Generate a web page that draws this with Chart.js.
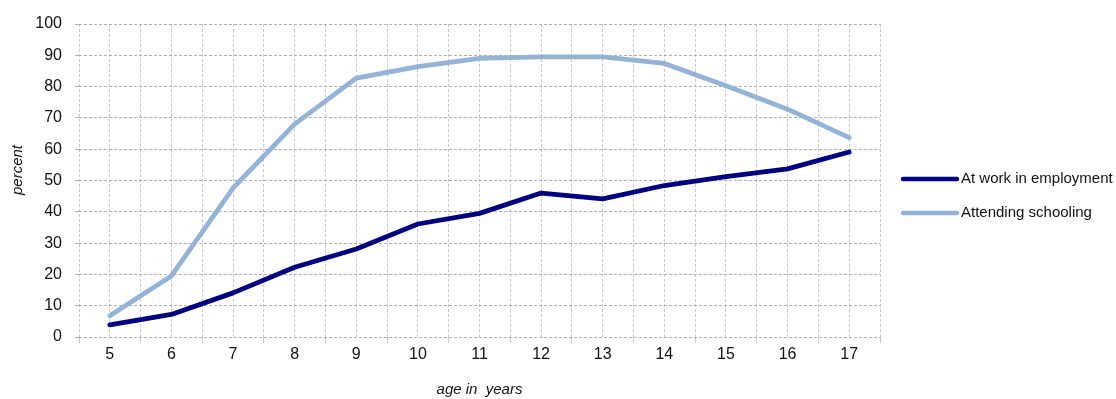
<!DOCTYPE html>
<html>
<head>
<meta charset="utf-8">
<script src="https://cdn.jsdelivr.net/npm/chart.js@4/dist/chart.umd.min.js"></script>
<style>
  html, body { margin: 0; padding: 0; background: #fff; }
  #wrap { width: 1116px; height: 399px; position: relative; }
</style>
</head>
<body>
<div id="wrap"><canvas id="c" width="1116" height="399"></canvas></div>
<script>
// Age in years (x axis categories)
const ages = [5, 6, 7, 8, 9, 10, 11, 12, 13, 14, 15, 16, 17];
// Share of children at work in employment, percent
const atWork = [3.9, 7.2, 14.1, 22.3, 28.1, 36.1, 39.5, 46.0, 44.1, 48.4, 51.2, 53.7, 59.1];
// Share of children attending schooling, percent
const schooling = [6.8, 19.5, 47.6, 68.0, 82.7, 86.4, 89.0, 89.5, 89.5, 87.4, 80.3, 72.8, 63.7];
// Y axis tick values
const yTicks = [0, 10, 20, 30, 40, 50, 60, 70, 80, 90, 100];

const seriesNames = ['At work in employment', 'Attending schooling'];
const seriesColors = ['#000080', '#95B3D7'];

const toPoints = vals => ages.map((a, i) => ({ x: a, y: vals[i] }));

const FONT = "'Liberation Sans', Arial, sans-serif";
const GRID_H = '#b0b0b0';
const GRID_V = '#c8c8c8';

// Legend to the right of the plot (thick line sample + label) and the rotated y title
const sideLegend = {
  id: 'sideLegend',
  afterDraw(chart) {
    const ctx = chart.ctx;
    const items = chart.data.datasets;
    const x0 = 903, x1 = 957, tx = 961;
    const ys = [179, 213];
    ctx.save();
    items.forEach((ds, i) => {
      ctx.strokeStyle = ds.borderColor;
      ctx.lineWidth = 4.5;
      ctx.lineCap = 'round';
      ctx.beginPath();
      ctx.moveTo(x0, ys[i]);
      ctx.lineTo(x1, ys[i]);
      ctx.stroke();
      ctx.fillStyle = '#111';
      ctx.font = '15px ' + FONT;
      ctx.textBaseline = 'middle';
      ctx.textAlign = 'left';
      ctx.fillText(ds.label, tx, ys[i]);
    });
    // y axis title
    ctx.translate(18, 170);
    ctx.rotate(-Math.PI / 2);
    ctx.font = 'italic 15px ' + FONT;
    ctx.textAlign = 'center';
    ctx.textBaseline = 'middle';
    ctx.fillStyle = '#111';
    ctx.fillText('percent', 0, 0);
    ctx.restore();
  }
};

new Chart(document.getElementById('c'), {
  type: 'line',
  data: {
    datasets: [
      { label: seriesNames[0], data: toPoints(atWork), borderColor: seriesColors[0], backgroundColor: seriesColors[0] },
      { label: seriesNames[1], data: toPoints(schooling), borderColor: seriesColors[1], backgroundColor: seriesColors[1] }
    ]
  },
  options: {
    responsive: false,
    animation: false,
    devicePixelRatio: 1,
    layout: { padding: { top: 24, right: 236, bottom: 0, left: 0 } },
    elements: {
      line: { borderWidth: 4.8, tension: 0, borderCapStyle: 'round', borderJoinStyle: 'round' },
      point: { radius: 0, hoverRadius: 0 }
    },
    plugins: { legend: { display: false }, tooltip: { enabled: false } },
    scales: {
      x: {
        type: 'linear',
        min: ages[0] - 0.5,
        max: ages[ages.length - 1] + 0.5,
        afterBuildTicks(scale) {
          const t = [];
          for (let v = ages[0] - 0.5; v <= ages[ages.length - 1] + 0.5 + 1e-9; v += 0.5) t.push({ value: v });
          scale.ticks = t;
        },
        afterFit(scale) { scale.height = 62; },
        grid: {
          color: GRID_V,
          lineWidth: 1,
          drawTicks: true,
          tickLength: 6,
          tickColor: ctx => (ctx.tick && Number.isInteger(ctx.tick.value)) ? 'rgba(0,0,0,0)' : GRID_V
        },
        border: { display: false, dash: [3, 2] },
        ticks: {
          autoSkip: false,
          maxRotation: 0,
          padding: 2,
          color: '#111',
          font: { family: FONT, size: 16 },
          callback: v => Number.isInteger(v) ? String(v) : ''
        },
        title: {
          display: true,
          text: 'age in  years',
          color: '#111',
          font: { family: FONT, size: 15, style: 'italic' },
          padding: { top: 0, bottom: 0 }
        }
      },
      y: {
        min: 0,
        max: 100,
        afterBuildTicks(scale) { scale.ticks = yTicks.map(v => ({ value: v })); },
        afterFit(scale) { scale.width = 79; },
        grid: { color: GRID_H, lineWidth: 1, tickLength: 4 },
        border: { display: false, dash: [3, 2] },
        ticks: {
          padding: 13,
          color: '#111',
          font: { family: FONT, size: 16 }
        }
      }
    }
  },
  plugins: [sideLegend]
});
</script>
</body>
</html>
